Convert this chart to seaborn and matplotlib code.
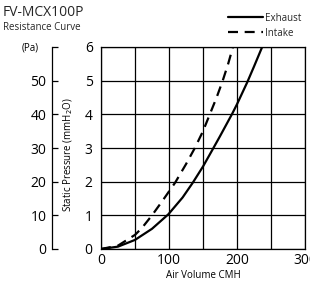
import pandas as pd
import matplotlib
matplotlib.use("Agg")
import matplotlib.pyplot as plt
import matplotlib.transforms as mtransforms
import seaborn as sns
from matplotlib.lines import Line2D

vazao_exaustao = [0, 25, 50, 75, 99, 120, 135, 150, 162, 175, 193, 200, 215, 225, 237]
pressao_exaustao = [0, 0.07, 0.27, 0.6, 1.03, 1.53, 1.97, 2.45, 2.88, 3.35, 4.02, 4.3, 4.95, 5.42, 6.0]
vazao_admissao = [0, 25, 50, 60, 75, 90, 109, 125, 138, 150, 159, 170, 179, 187, 194]
pressao_admissao = [0, 0.1, 0.42, 0.62, 1.0, 1.42, 1.97, 2.52, 3.0, 3.5, 3.95, 4.5, 5.0, 5.5, 6.0]

ticks_x = [0, 100, 200, 300]
ticks_y = [0, 1, 2, 3, 4, 5, 6]
ticks_pa = [0, 10, 20, 30, 40, 50, 60]
rotulos_pa = ["0", "10", "20", "30", "40", "50", "(Pa)"]

sns.set_theme(style="white")
plt.rcParams["font.family"] = ["Open Sans", "DejaVu Sans"]

W, H = 310, 282
fig = plt.figure(figsize=(W / 100, H / 100), dpi=100)
esq, dir_, base, topo = 101 / W, 305 / W, 1 - 249 / H, 1 - 47 / H
ax = fig.add_axes([esq, base, dir_ - esq, topo - base])

df_ex = pd.DataFrame({"x": vazao_exaustao, "y": pressao_exaustao})
df_in = pd.DataFrame({"x": vazao_admissao, "y": pressao_admissao})
sns.lineplot(data=df_ex, x="x", y="y", ax=ax, color="black", lw=1.6, sort=False)
sns.lineplot(data=df_in, x="x", y="y", ax=ax, color="black", lw=1.6, sort=False)
ax.lines[-1].set_dashes((4.5, 3))

ax.set_xlim(0, 300)
ax.set_ylim(0, 6)
ax.set_xticks(ticks_x)
ax.set_xticks(range(50, 300, 100), minor=True)
ax.set_yticks(ticks_y)
ax.grid(True, which="both", color="black", lw=0.9)
for s in ax.spines.values():
    s.set_color("black")
    s.set_linewidth(0.9)
ax.tick_params(axis="both", which="both", length=0, labelsize=10, colors="black", pad=3)
ax.tick_params(axis="y", pad=6)
ax.set_xlabel("Air Volume CMH", fontsize=7, labelpad=1, color="black")
ax.set_ylabel("Static Pressure (mmH$_2$O)", fontsize=7, color="black")
ax.yaxis.set_label_coords(-0.127, 0.465)

# Eixo secundario em Pa
ax2 = fig.add_axes([52 / W, base, 0.001, topo - base])
ax2.set_facecolor("none")
for nome, s in ax2.spines.items():
    s.set_visible(nome == "left")
ax2.spines["left"].set_color("black")
ax2.spines["left"].set_linewidth(0.9)
ax2.set_ylim(0, 60)
ax2.set_yticks(ticks_pa)
ax2.set_yticklabels(rotulos_pa)
ax2.set_xticks([])
ax2.tick_params(axis="y", left=True, direction="in", length=4.5, width=0.9,
                colors="black", labelsize=10, pad=4)
rot_pa = ax2.get_yticklabels()[-1]
rot_pa.set_fontsize(7)
rot_pa.set_transform(rot_pa.get_transform()
                     + mtransforms.ScaledTranslation(-0.08, 0, fig.dpi_scale_trans))

fig.text(3 / W, 1 - 12 / H, "FV-MCX100P", fontsize=10, va="center", ha="left")
fig.text(3 / W, 1 - 28 / H, "Resistance Curve", fontsize=7, va="center", ha="left")

handles = [Line2D([], [], color="black", lw=1.6),
           Line2D([], [], color="black", lw=1.6, dashes=(4.5, 3))]
fig.legend(handles, ["Exhaust", "Intake"], loc="upper left",
           bbox_to_anchor=(223 / W, 1 - 8 / H), frameon=False, fontsize=7,
           handlelength=3.6, handletextpad=0.2, labelspacing=0.4, borderpad=0)

fig.savefig("out.png", dpi=100)
